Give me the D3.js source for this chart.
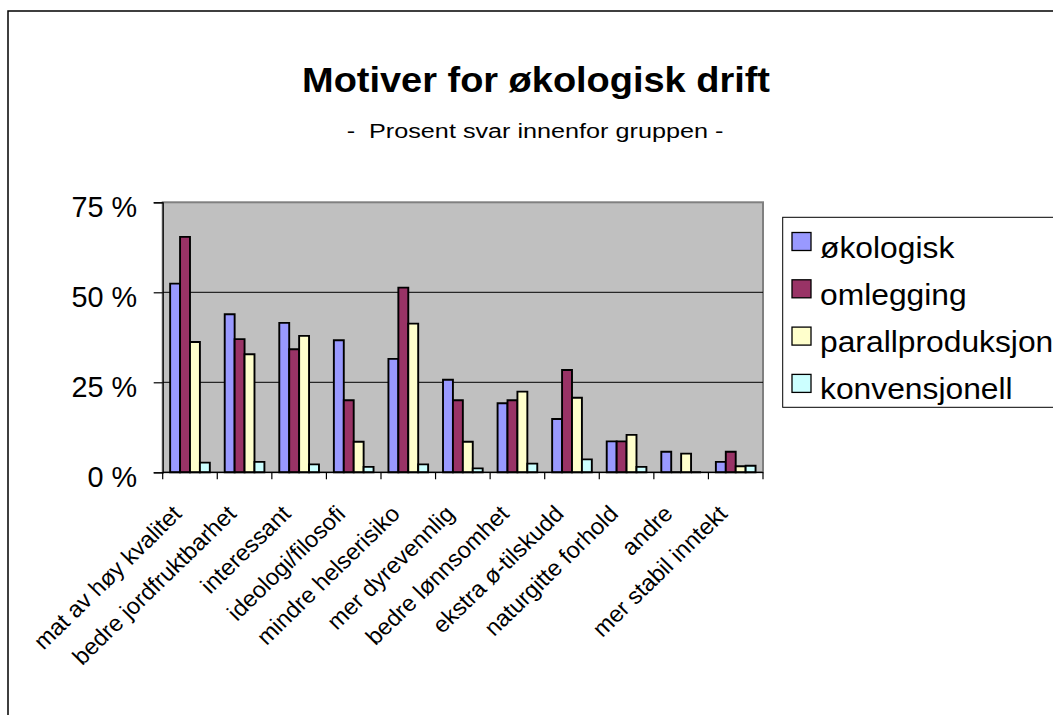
<!DOCTYPE html>
<html>
<head>
<meta charset="utf-8">
<script src="https://cdn.jsdelivr.net/npm/d3@7"></script>
<style>
  body { margin: 0; background: #fff; }
  text { font-family: "Liberation Sans", Arial, sans-serif; fill: #000; }
</style>
</head>
<body>
<div></div>
<script>
const categories = [
  "mat av høy kvalitet",
  "bedre jordfruktbarhet",
  "interessant",
  "ideologi/filosofi",
  "mindre helserisiko",
  "mer dyrevennlig",
  "bedre lønnsomhet",
  "ekstra ø-tilskudd",
  "naturgitte forhold",
  "andre",
  "mer stabil inntekt"
];
const seriesNames = ["økologisk", "omlegging", "parallproduksjon", "konvensjonell"];
const okologisk = [52.4, 43.9, 41.5, 36.7, 31.5, 25.7, 19.2, 14.8, 8.6, 5.7, 2.9];
const omlegging = [65.4, 37.0, 34.2, 20.0, 51.3, 20.0, 20.0, 28.4, 8.6, 0, 5.7];
const parallproduksjon = [36.2, 32.8, 37.9, 8.5, 41.3, 8.5, 22.4, 20.7, 10.4, 5.2, 1.7];
const konvensjonell = [2.7, 2.9, 2.2, 1.5, 2.2, 1.1, 2.4, 3.6, 1.5, 0, 1.8];
const yTicks = [0, 25, 50, 75];
const colors = ["#9999ff", "#993366", "#ffffcc", "#ccffff"];

const seriesValues = [okologisk, omlegging, parallproduksjon, konvensjonell];

const svg = d3.select("div").append("svg").attr("width", 1053).attr("height", 715);

// outer chart frame
svg.append("rect")
  .attr("x", 8).attr("y", 11)
  .attr("width", 1100).attr("height", 800)
  .attr("fill", "#fff")
  .attr("stroke", "#000")
  .attr("stroke-width", 1.5);

const plotLeft = 162.7, plotRight = 763, plotTop = 202.3, plotBottom = 472.3;

const x0 = d3.scaleBand().domain(categories).range([plotLeft, plotRight]).padding(0);
const gap = x0.bandwidth() * 1.5 / 5.5;
const x1 = d3.scaleBand().domain(seriesNames).range([gap / 2, x0.bandwidth() - gap / 2]).padding(0);
const y = d3.scaleLinear().domain([0, 75]).range([plotBottom, plotTop]);

// plot area
svg.append("rect")
  .attr("x", plotLeft).attr("y", plotTop)
  .attr("width", plotRight - plotLeft).attr("height", plotBottom - plotTop)
  .attr("fill", "#c0c0c0")
  .attr("stroke", "#808080")
  .attr("stroke-width", 2);

// gridlines
svg.append("g")
  .selectAll("line")
  .data(yTicks.filter(d => d > 0 && d < 75))
  .enter().append("line")
  .attr("x1", plotLeft).attr("x2", plotRight)
  .attr("y1", d => y(d)).attr("y2", d => y(d))
  .attr("stroke", "#000").attr("stroke-width", 1);

// bars
const rows = [];
seriesValues.forEach((vals, s) => {
  vals.forEach((v, i) => rows.push({ cat: categories[i], series: seriesNames[s], value: v, s: s }));
});

svg.append("g")
  .selectAll("path")
  .data(rows)
  .enter().append("path")
  .attr("d", d => {
    const bx = x0(d.cat) + x1(d.series);
    const w = x1.bandwidth();
    return "M" + bx + "," + y(d.value) + "h" + w + "V" + y(0) + "h" + (-w) + "Z";
  })
  .attr("fill", d => colors[d.s])
  .attr("stroke", "#000")
  .attr("stroke-width", 1.9);

// y axis
const yAxis = svg.append("g").attr("transform", "translate(" + plotLeft + ",0)")
  .call(d3.axisLeft(y).tickValues(yTicks).tickSize(9).tickFormat(""));
yAxis.select(".domain").attr("stroke", "#000").attr("stroke-width", 1.2);
yAxis.selectAll(".tick line").attr("stroke", "#000").attr("stroke-width", 1.2);

svg.append("g")
  .selectAll("text")
  .data(yTicks)
  .enter().append("text")
  .attr("transform", d => "translate(137," + (y(d) + 15) + ") scale(0.96,1)")
  .attr("text-anchor", "end")
  .attr("font-size", 30)
  .text(d => d + " %");

// x axis with ticks between categories
const xAxis = svg.append("g").attr("transform", "translate(0," + plotBottom + ")");
xAxis.append("line")
  .attr("x1", plotLeft).attr("x2", plotRight)
  .attr("stroke", "#000").attr("stroke-width", 1.2);
xAxis.selectAll(".sep")
  .data(categories.map(c => x0(c)).concat([plotRight]))
  .enter().append("line")
  .attr("class", "sep")
  .attr("x1", d => d).attr("x2", d => d)
  .attr("y1", 0).attr("y2", 7)
  .attr("stroke", "#000").attr("stroke-width", 1.2);

xAxis.selectAll(".lbl")
  .data(categories)
  .enter().append("text")
  .attr("class", "lbl")
  .attr("text-anchor", "end")
  .attr("font-size", 23)
  .attr("transform", d => "translate(" + (x0(d) + x0.bandwidth() / 2 - 7) + ",43) scale(1.03,1) rotate(-45)")
  .text(d => d);

// title
svg.append("text")
  .attr("transform", "translate(536,92) scale(1.1,1)")
  .attr("text-anchor", "middle")
  .attr("font-size", 34.5)
  .attr("font-weight", "bold")
  .text("Motiver for økologisk drift");

svg.append("text")
  .attr("transform", "translate(535,138) scale(1.2,1)")
  .attr("text-anchor", "middle")
  .attr("font-size", 21)
  .attr("xml:space", "preserve")
  .text("-  Prosent svar innenfor gruppen -");

// legend
const legend = svg.append("g");
legend.append("rect")
  .attr("x", 782.7).attr("y", 217.3)
  .attr("width", 400).attr("height", 190)
  .attr("fill", "#fff")
  .attr("stroke", "#000")
  .attr("stroke-width", 1);

const item = legend.selectAll(".item")
  .data(seriesNames)
  .enter().append("g")
  .attr("class", "item")
  .attr("transform", (d, i) => "translate(792," + (232.5 + i * 47.3) + ")");

item.append("rect")
  .attr("width", 19).attr("height", 18)
  .attr("fill", (d, i) => colors[i])
  .attr("stroke", "#000")
  .attr("stroke-width", 1.3);

item.append("text")
  .attr("transform", "translate(28,25) scale(1.06,1)")
  .attr("font-size", 30)
  .text(d => d);
</script>
</body>
</html>
